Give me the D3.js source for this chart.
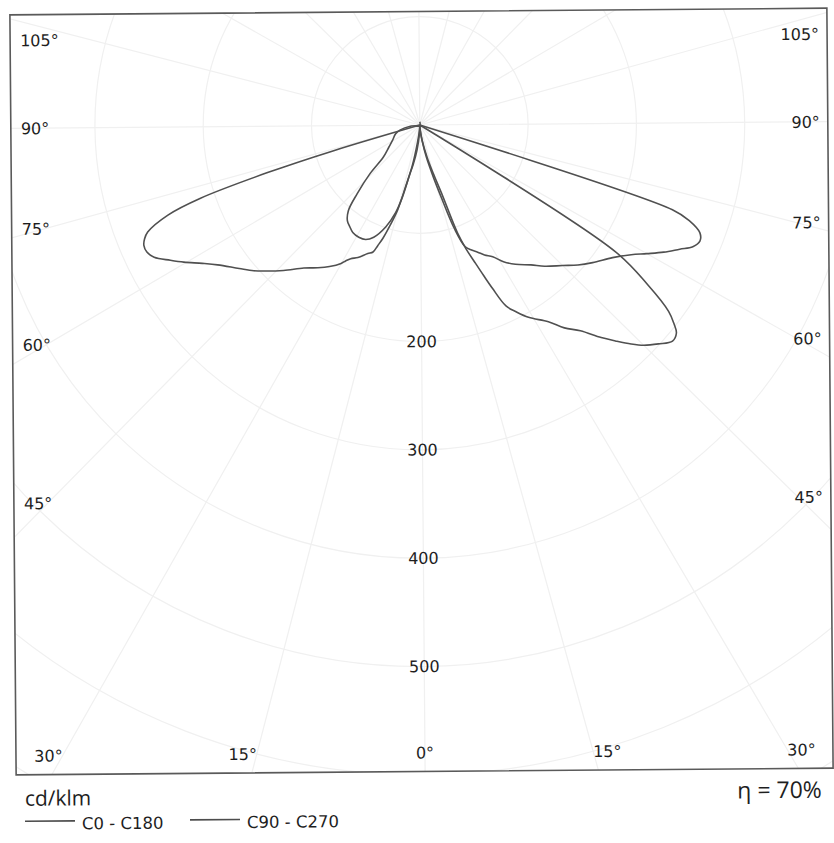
<!DOCTYPE html>
<html><head><meta charset="utf-8">
<script src="https://cdn.jsdelivr.net/npm/d3@7"></script>
<style>body{margin:0;background:#fff}svg{display:block}</style>
</head><body>
<svg id="chart" width="834" height="843"></svg>
<script>
// ---- data (gamma in degrees, intensity in cd/klm) ----
const c0   = [[0,0],[4,5],[8,15],[11,30],[14,49],[16,69],[18,101],[20,120],[22,125],[24,129],[26,134],[28.5,139],[31,148],[34,156],[38,165],[41,174],[45,185],[48,195],[51,204],[55,216],[58,229],[60,241],[62,254],[64,266],[65.5,276],[67,280],[68.5,277],[70,264],[71,246],[72.5,0]];
const c180 = [[0,0],[4,5],[8,16],[11,39],[13.5,59],[15.1,81],[17,97],[18.5,110],[19.7,118],[20.7,125],[22.5,128],[25.5,135],[27.8,139],[29.1,143],[30.1,147],[33,155],[36,162],[39.5,170],[43.6,184],[47,196],[49.2,204],[52,213],[55.8,227],[58,238],[60.3,252],[62,262],[64,274],[65.5,278],[66.9,278],[68,275],[69,270],[70.8,247],[72,214],[73.1,148],[73.9,83],[75.5,0]];
const c90  = [[0,0],[4,5],[8,14],[12.3,31],[15,46],[17.2,66],[18.8,106],[20,122],[21.4,137],[22.5,151],[23.5,165],[25,185],[26.8,194],[29,204],[32.7,217],[35,230],[37.5,241],[40,258],[41.7,269],[43.5,281],[45,290],[47,299],[49,307],[50.5,305],[51.5,298],[52.7,287],[54.5,257],[56.6,215],[58,0]];
const c270 = [[0,0],[3,8],[6.8,23],[10,37],[11.8,45],[14,68],[15.9,84],[18.9,99],[22.8,112],[25.8,117],[29,118],[32.4,117],[35,114],[37.5,111],[40.3,103],[42.8,86],[46.2,64],[49.1,45],[55,35],[61,29],[70,24],[76,19],[84,8],[90,0],[180,3]];
const seriesNames = ["C0 - C180", "C90 - C270"];
const sideAngles = [105, 90, 75, 60, 45];
const bottomAngles = [-30, -15, 0, 15, 30];
const radiusTicks = [200, 300, 400, 500];
const gridRadii = [100, 200, 300, 400, 500, 600, 700, 800];
const gridAngles = [0,15,30,45,60,75,90,105,120,135,150,165,180,195,210,225,240,255,270,285,300,315,330,345];
const unitLabel = "cd/klm";
const etaLabel = "\u03b7 = 70%";

// ---- layout ----
const box = {x: 13, y: 11.5, w: 817, h: 760};
const cx = 422, cy = 125;
const svg = d3.select("#chart");
const root = svg.append("g")
  .attr("transform", `rotate(-0.47 ${box.x + box.w/2} ${box.y + box.h/2})`);

const r = d3.scaleLinear().domain([0, 100]).range([0, 108.3]);
const toRad = d => d * Math.PI / 180;
const angRight = d3.scaleLinear().domain([0, 180]).range([Math.PI, 0]);
const angLeft  = d3.scaleLinear().domain([0, 180]).range([Math.PI, 2 * Math.PI]);

svg.append("defs").append("clipPath").attr("id", "boxclip")
  .append("rect").attr("x", box.x).attr("y", box.y).attr("width", box.w).attr("height", box.h);

// grid
const grid = root.append("g").attr("clip-path", "url(#boxclip)");
grid.selectAll("circle").data(gridRadii).join("circle")
  .attr("cx", cx).attr("cy", cy).attr("r", d => r(d))
  .attr("fill", "none").attr("stroke", "#f0f0f0").attr("stroke-width", 1.2);
grid.selectAll("line").data(gridAngles).join("line")
  .attr("x1", cx).attr("y1", cy)
  .attr("x2", d => cx + 1200 * Math.sin(toRad(d)))
  .attr("y2", d => cy + 1200 * Math.cos(toRad(d)))
  .attr("stroke", "#f0f0f0").attr("stroke-width", 1.2);

// frame
root.append("rect").attr("x", box.x).attr("y", box.y).attr("width", box.w).attr("height", box.h)
  .attr("fill", "none").attr("stroke", "#5a5a5a").attr("stroke-width", 1.6);

// curves
const radial = d3.lineRadial().angle(d => d.a).radius(d => r(d.v))
  .curve(d3.curveCatmullRom.alpha(0.5));
function buildPath(left, right) {
  const pts = left.slice().reverse().map(([g, v]) => ({a: angLeft(g), v}))
    .concat(right.map(([g, v]) => ({a: angRight(g), v})));
  return radial(pts);
}
const curves = root.append("g").attr("transform", `translate(${cx},${cy})`);
[[c180, c0], [c270, c90]].forEach(([l, rt]) => {
  curves.append("path").attr("d", buildPath(l, rt))
    .attr("fill", "none").attr("stroke", "#505050").attr("stroke-width", 1.6)
    .attr("stroke-linejoin", "round");
});

// labels
const font = "DejaVu Sans, Verdana, sans-serif";
const txt = root.append("g").attr("font-family", font).attr("font-size", 16).attr("fill", "#1e1e1e");
txt.selectAll("text.rt").data(radiusTicks).join("text").attr("class", "rt")
  .attr("x", cx).attr("y", d => cy + r(d)).attr("dy", "0.35em")
  .attr("text-anchor", "middle").text(d => d);

const sideY = a => Math.max(cy - 88, cy + 375 / Math.tan(toRad(a))) + 6;
txt.selectAll("text.sl").data(sideAngles).join("text").attr("class", "sl")
  .attr("x", box.x + 10).attr("y", sideY).text(d => d + "\u00b0");
txt.selectAll("text.sr").data(sideAngles).join("text").attr("class", "sr")
  .attr("x", box.x + box.w - 8).attr("y", sideY).attr("text-anchor", "end").text(d => d + "\u00b0");

const bottomBase = 758.5;
txt.selectAll("text.bl").data(bottomAngles).join("text").attr("class", "bl")
  .attr("x", d => cx + 627.5 * Math.tan(toRad(d)))
  .attr("y", bottomBase)
  .attr("text-anchor", d => d < 0 ? "end" : d > 0 ? "start" : "middle")
  .text(d => Math.abs(d) + "\u00b0");

// unit, efficiency, legend
root.append("text").attr("x", 21.5).attr("y", 802.5)
  .attr("font-family", "Open Sans, sans-serif").attr("font-size", 21).attr("fill", "#1e1e1e").text(unitLabel);
root.append("text").attr("x", 818.5).attr("y", 801).attr("text-anchor", "end")
  .attr("font-family", "Open Sans, sans-serif").attr("font-size", 23).attr("fill", "#1e1e1e").text(etaLabel);

const legendX = [21.5, 186.5];
const leg = root.append("g");
seriesNames.forEach((name, i) => {
  leg.append("line").attr("x1", legendX[i]).attr("x2", legendX[i] + 50)
    .attr("y1", 818).attr("y2", 818).attr("stroke", "#4d4d4d").attr("stroke-width", 1.6);
  leg.append("text").attr("x", legendX[i] + 57).attr("y", 826.5)
    .attr("font-family", font).attr("font-size", 16.5).attr("fill", "#1e1e1e").text(name);
});
</script>
</body></html>
